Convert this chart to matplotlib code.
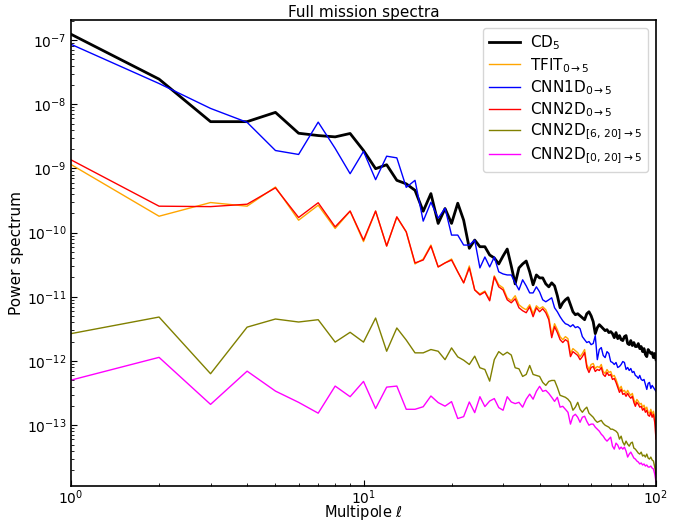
import numpy as np
import matplotlib
matplotlib.use("Agg")
import matplotlib.pyplot as plt

ell = list(range(1, 101))

cd5 = [1.23e-7, 2.46e-8, 5.35e-9, 5.35e-9, 7.46e-9, 3.53e-9, 3.25e-9, 3.10e-9, 3.50e-9, 1.90e-9,
       9.9e-10, 1.14e-9, 6.52e-10, 5.75e-10, 4.56e-10, 2.15e-10, 4.05e-10, 1.39e-10, 2.37e-10, 1.39e-10,
       2.87e-10, 1.56e-10, 5.69e-11, 7.65e-11, 6.03e-11, 6.03e-11, 4.48e-11, 4.03e-11, 3.25e-11, 4.32e-11,
       5.55e-11, 3.02e-11, 1.59e-11, 2.82e-11, 3.25e-11, 3.61e-11, 2.45e-11, 1.54e-11, 2.19e-11, 1.97e-11,
       1.97e-11, 1.59e-11, 1.43e-11, 1.65e-11, 1.48e-11, 1.04e-11, 6.75e-12, 8.07e-12, 8.98e-12, 9.65e-12,
       7.52e-12, 5.85e-12, 5.26e-12, 5.45e-12, 5.07e-12, 4.72e-12, 4.40e-12, 5.45e-12, 5.85e-12, 5.07e-12,
       4.10e-12, 2.67e-12, 3.31e-12, 3.68e-12, 3.43e-12, 3.19e-12, 2.97e-12, 3.08e-12, 2.77e-12, 2.87e-12,
       2.67e-12, 2.31e-12, 2.77e-12, 2.23e-12, 2.49e-12, 2.15e-12, 2.08e-12, 2.40e-12, 2.49e-12, 1.87e-12,
       1.80e-12, 2.08e-12, 1.74e-12, 1.94e-12, 1.68e-12, 1.68e-12, 1.87e-12, 1.56e-12, 1.68e-12, 1.40e-12,
       1.56e-12, 1.26e-12, 1.17e-12, 1.51e-12, 1.40e-12, 1.31e-12, 1.35e-12, 1.13e-12, 1.31e-12, 1.05e-12]

tfit = [1.15e-9, 1.80e-10, 2.94e-10, 2.58e-10, 5.13e-10, 1.56e-10, 2.67e-10, 1.16e-10, 2.15e-10, 7.25e-11,
        2.15e-10, 6.18e-11, 1.74e-10, 1.02e-10, 3.25e-11, 3.88e-11, 6.40e-11, 2.92e-11, 3.37e-11, 3.88e-11,
        2.45e-11, 1.65e-11, 3.02e-11, 1.28e-11, 1.11e-11, 1.23e-11, 8.98e-12, 2.12e-11, 1.54e-11, 1.38e-11,
        9.65e-12, 8.67e-12, 1.04e-11, 7.52e-12, 6.75e-12, 6.29e-12, 7.52e-12, 5.45e-12, 7.25e-12, 6.52e-12,
        7.00e-12, 6.29e-12, 4.90e-12, 2.58e-12, 3.81e-12, 3.08e-12, 2.40e-12, 2.15e-12, 2.40e-12, 2.23e-12,
        1.31e-12, 1.56e-12, 1.45e-12, 1.35e-12, 1.17e-12, 1.31e-12, 1.51e-12, 8.83e-13, 7.38e-13, 8.83e-13,
        9.15e-13, 7.65e-13, 8.22e-13, 7.93e-13, 8.83e-13, 6.87e-13, 6.40e-13, 7.38e-13, 6.63e-13, 6.87e-13,
        5.75e-13, 5.96e-13, 5.16e-13, 4.32e-13, 3.61e-13, 4.03e-13, 3.37e-13, 3.49e-13, 3.13e-13, 3.49e-13,
        3.13e-13, 2.92e-13, 3.13e-13, 2.52e-13, 2.19e-13, 2.52e-13, 2.35e-13, 2.12e-13, 2.19e-13, 1.91e-13,
        2.05e-13, 1.77e-13, 1.91e-13, 1.59e-13, 1.54e-13, 1.77e-13, 1.48e-13, 1.65e-13, 1.31e-13, 9.31e-14]

cnn1d = [8.58e-8, 2.10e-8, 8.6e-9, 5.22e-9, 1.90e-9, 1.65e-9, 5.26e-9, 2.05e-9, 8.27e-10, 1.84e-9,
         6.68e-10, 1.55e-9, 1.46e-9, 5.07e-10, 6.52e-10, 1.51e-10, 2.97e-10, 1.68e-10, 2.40e-10, 9.15e-11,
         9.15e-11, 6.40e-11, 6.40e-11, 7.65e-11, 2.82e-11, 4.17e-11, 2.92e-11, 4.17e-11, 2.45e-11, 2.27e-11,
         2.19e-11, 2.19e-11, 1.65e-11, 1.28e-11, 1.84e-11, 1.48e-11, 1.15e-11, 1.15e-11, 1.43e-11, 1.19e-11,
         8.98e-12, 8.37e-12, 8.98e-12, 9.65e-12, 6.75e-12, 5.85e-12, 4.90e-12, 4.24e-12, 3.81e-12, 3.68e-12,
         3.43e-12, 3.68e-12, 3.31e-12, 3.43e-12, 3.19e-12, 2.40e-12, 2.15e-12, 1.94e-12, 2.01e-12, 1.80e-12,
         1.87e-12, 2.49e-12, 1.05e-12, 1.51e-12, 1.62e-12, 1.22e-12, 1.13e-12, 1.40e-12, 1.31e-12, 9.8e-13,
         9.48e-13, 8.83e-13, 9.48e-13, 7.93e-13, 8.22e-13, 8.83e-13, 9.82e-13, 9.48e-13, 7.38e-13, 7.93e-13,
         7.12e-13, 7.65e-13, 6.63e-13, 6.87e-13, 5.96e-13, 5.75e-13, 5.35e-13, 5.96e-13, 5.16e-13, 4.98e-13,
         5.16e-13, 4.32e-13, 3.61e-13, 4.48e-13, 4.64e-13, 3.74e-13, 4.17e-13, 3.88e-13, 3.61e-13, 3.37e-13]

cnn2d = [1.36e-9, 2.58e-10, 2.54e-10, 2.77e-10, 4.98e-10, 1.72e-10, 2.92e-10, 1.23e-10, 2.17e-10, 7.65e-11,
         2.17e-10, 6.18e-11, 1.76e-10, 1.03e-10, 3.37e-11, 3.74e-11, 6.18e-11, 2.92e-11, 3.37e-11, 3.74e-11,
         2.45e-11, 1.65e-11, 2.82e-11, 1.28e-11, 1.07e-11, 1.19e-11, 8.67e-12, 2.05e-11, 1.43e-11, 1.28e-11,
         8.98e-12, 8.07e-12, 9.31e-12, 6.75e-12, 6.07e-12, 5.65e-12, 7.00e-12, 4.90e-12, 6.75e-12, 5.85e-12,
         6.52e-12, 5.65e-12, 4.40e-12, 2.31e-12, 3.43e-12, 2.77e-12, 2.15e-12, 1.94e-12, 2.15e-12, 2.01e-12,
         1.17e-12, 1.40e-12, 1.31e-12, 1.22e-12, 1.05e-12, 1.17e-12, 1.35e-12, 7.93e-13, 6.63e-13, 7.93e-13,
         8.22e-13, 6.87e-13, 7.38e-13, 7.12e-13, 7.93e-13, 6.18e-13, 5.75e-13, 6.63e-13, 5.96e-13, 6.18e-13,
         5.16e-13, 5.35e-13, 4.64e-13, 3.88e-13, 3.25e-13, 3.61e-13, 3.02e-13, 3.13e-13, 2.82e-13, 3.13e-13,
         2.82e-13, 2.63e-13, 2.82e-13, 2.27e-13, 1.97e-13, 2.27e-13, 2.12e-13, 1.91e-13, 1.97e-13, 1.71e-13,
         1.84e-13, 1.59e-13, 1.71e-13, 1.43e-13, 1.38e-13, 1.59e-13, 1.33e-13, 1.48e-13, 1.11e-13, 6.07e-14]

cnn2d_6_20 = [2.67e-12, 4.84e-12, 6.34e-13, 3.37e-12, 4.51e-12, 4.05e-12, 4.40e-12, 1.97e-12, 2.80e-12, 1.97e-12,
              4.67e-12, 1.42e-12, 3.27e-12, 2.12e-12, 1.34e-12, 1.34e-12, 1.51e-12, 1.42e-12, 1.05e-12, 1.60e-12,
              1.16e-12, 1.03e-12, 8.83e-13, 1.19e-12, 7.85e-13, 7.38e-13, 4.86e-13, 1.05e-12, 1.40e-12, 1.24e-12,
              1.37e-12, 1.24e-12, 7.85e-13, 7.56e-13, 5.75e-13, 6.18e-13, 8.52e-13, 6.18e-13, 5.96e-13, 5.75e-13,
              4.64e-13, 4.17e-13, 4.81e-13, 4.98e-13, 4.98e-13, 3.88e-13, 2.92e-13, 2.82e-13, 2.72e-13, 2.54e-13,
              2.27e-13, 1.71e-13, 1.91e-13, 2.27e-13, 1.77e-13, 1.59e-13, 1.77e-13, 1.91e-13, 1.54e-13, 1.43e-13,
              1.33e-13, 1.19e-13, 1.11e-13, 1.15e-13, 1.19e-13, 1.07e-13, 1.00e-13, 9.65e-14, 9.31e-14, 8.67e-14,
              8.67e-14, 8.37e-14, 8.07e-14, 7.52e-14, 6.07e-14, 6.75e-14, 5.45e-14, 4.90e-14, 5.65e-14, 5.07e-14,
              4.72e-14, 5.26e-14, 5.45e-14, 4.40e-14, 4.24e-14, 3.95e-14, 3.68e-14, 3.55e-14, 3.81e-14, 3.31e-14,
              3.43e-14, 3.19e-14, 3.55e-14, 3.08e-14, 2.97e-14, 3.19e-14, 2.87e-14, 2.77e-14, 2.23e-14, 1.68e-14]

cnn2d_0_20 = [5.04e-13, 1.14e-12, 2.11e-13, 6.95e-13, 3.40e-13, 2.27e-13, 1.54e-13, 4.07e-13, 2.78e-13, 4.81e-13,
              1.82e-13, 3.92e-13, 4.07e-13, 1.77e-13, 1.77e-13, 1.94e-13, 2.85e-13, 2.25e-13, 1.98e-13, 2.33e-13,
              1.27e-13, 1.36e-13, 2.30e-13, 1.57e-13, 2.78e-13, 1.95e-13, 2.38e-13, 2.60e-13, 1.88e-13, 1.71e-13,
              2.78e-13, 2.30e-13, 2.17e-13, 2.27e-13, 1.91e-13, 2.54e-13, 3.05e-13, 2.54e-13, 3.37e-13, 4.03e-13,
              3.37e-13, 3.49e-13, 3.13e-13, 2.72e-13, 2.35e-13, 2.72e-13, 1.91e-13, 1.97e-13, 1.77e-13, 1.59e-13,
              1.04e-13, 1.38e-13, 1.48e-13, 1.33e-13, 1.11e-13, 1.33e-13, 1.38e-13, 1.15e-13, 1.00e-13, 1.04e-13,
              1.04e-13, 9.31e-14, 8.67e-14, 8.07e-14, 7.25e-14, 6.75e-14, 6.07e-14, 5.65e-14, 6.07e-14, 6.52e-14,
              4.72e-14, 4.24e-14, 5.26e-14, 4.90e-14, 4.24e-14, 4.56e-14, 4.24e-14, 4.56e-14, 3.95e-14, 3.19e-14,
              3.55e-14, 3.81e-14, 3.43e-14, 3.08e-14, 2.97e-14, 2.77e-14, 2.67e-14, 2.49e-14, 2.58e-14, 2.40e-14,
              2.49e-14, 2.31e-14, 2.40e-14, 2.23e-14, 2.23e-14, 2.31e-14, 2.15e-14, 2.08e-14, 1.74e-14, 1.31e-14]

labels = [r'CD$_5$', r'TFIT$_{0\rightarrow5}$', r'CNN1D$_{0\rightarrow5}$', r'CNN2D$_{0\rightarrow5}$',
          r'CNN2D$_{[6,\,20]\rightarrow5}$', r'CNN2D$_{[0,\,20]\rightarrow5}$']
series = [cd5, tfit, cnn1d, cnn2d, cnn2d_6_20, cnn2d_0_20]
colors = ['black', 'orange', 'blue', 'red', 'olive', 'magenta']
widths = [2.0, 1.0, 1.0, 1.0, 1.0, 1.0]

fig = plt.figure(figsize=(6.84, 5.22), dpi=100)
ax = fig.add_axes([71/684, 1 - 486/522, (656 - 71)/684, (486 - 20)/522])

for s, c, w, lab in zip(series, colors, widths, labels):
    ax.plot(ell, s, color=c, lw=w, label=lab)

ax.set_xscale('log')
ax.set_yscale('log')
ax.set_xlim(1, 100)
ax.set_ylim(1.13e-14, 2.05e-7)
ax.set_title('Full mission spectra', fontsize=11, pad=2)
ax.set_ylabel('Power spectrum', fontsize=11, labelpad=2)
ax.tick_params(which='both', direction='in', labelsize=10)
ax.tick_params(which='major', length=4)
ax.tick_params(which='minor', length=2)
ax.tick_params(axis='x', which='both', pad=1.5)
ax.set_xlabel(r'Multipole $\ell$', fontsize=10.5, labelpad=-3)
for sp in ax.spines.values():
    sp.set_linewidth(1.2)
ax.legend(loc='upper right', fontsize=11, handlelength=2.0, handletextpad=0.7,
          labelspacing=0.22, borderpad=0.4, borderaxespad=0.5)

fig.savefig('out.png', dpi=100)
